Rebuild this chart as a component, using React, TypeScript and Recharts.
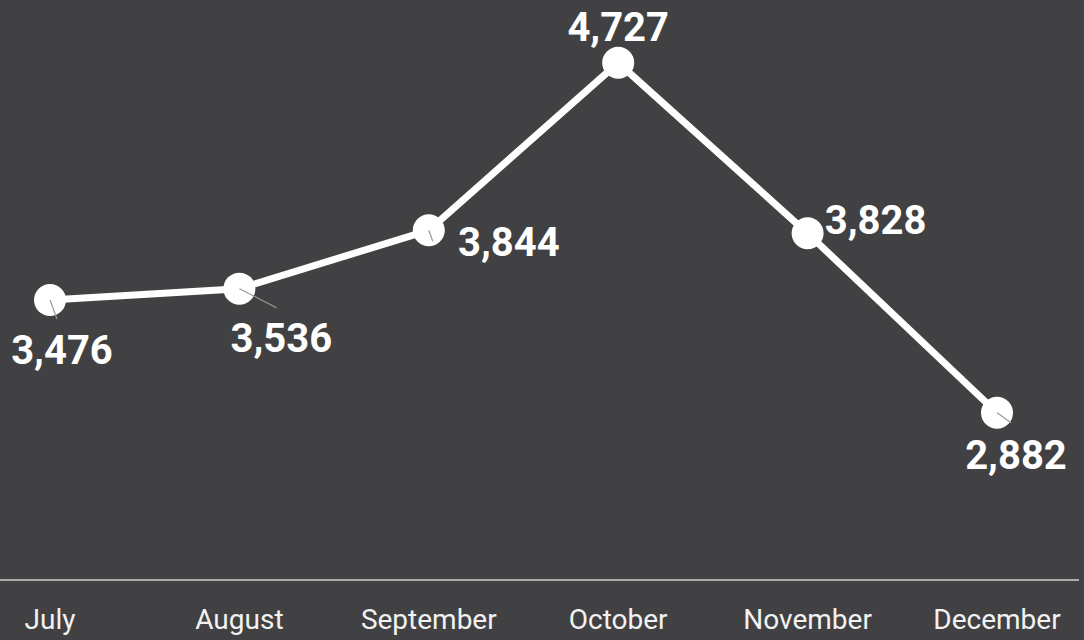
import { LineChart, Line, XAxis, YAxis, LabelList } from "recharts"

const months = ["July", "August", "September", "October", "November", "December"]
const values = [3476, 3536, 3844, 4727, 3828, 2882]

// where each value label sits relative to its point (label centre), plus the leader line end
const labelOffsets = [
    { dx: 12, dy: 50, lx: 7, ly: 19 },
    { dx: 42, dy: 50, lx: 37, ly: 19 },
    { dx: 80, dy: 12, lx: 4, ly: 11 },
    { dx: 0, dy: -35, lx: 0, ly: 0 },
    { dx: 68, dy: -13, lx: 0, ly: 0 },
    { dx: 19, dy: 43, lx: 14, ly: 10 },
]

const data = months.map((m, i) => ({ month: m, value: values[i] }))

const renderLabel = (props: any) => {
    const { x, y, value, index } = props
    const o = labelOffsets[index]
    return (
        <g>
            {(o.lx !== 0 || o.ly !== 0) && (
                <line x1={x} y1={y} x2={x + o.lx} y2={y + o.ly} stroke="#9a9a9a" strokeWidth={1.2} />
            )}
            <text
                x={x + o.dx}
                y={y + o.dy}
                textAnchor="middle"
                dominantBaseline="central"
                fill="#ffffff"
                fontFamily="Roboto"
                fontWeight={700}
                fontSize={40}
            >
                {Number(value).toLocaleString("en-US")}
            </text>
        </g>
    )
}

export default function App() {
    return (
        <div style={{ position: "absolute", left: 0, top: 0, width: 1084, height: 640, background: "#414143" }}>
            <LineChart width={1084} height={640} data={data} margin={{ top: 11, right: 5, bottom: 0, left: 0 }}>
                <XAxis
                    dataKey="month"
                    height={60}
                    padding={{ left: 50, right: 82 }}
                    tickLine={false}
                    axisLine={{ stroke: "#cfcfcf", strokeWidth: 1.5 }}
                    tick={{ fill: "#f2f2f2", fontFamily: "Roboto", fontSize: 28 }}
                    tickMargin={23}
                    interval={0}
                />
                <YAxis hide domain={[2000, 5000]} allowDataOverflow />
                <Line
                    type="linear"
                    dataKey="value"
                    stroke="#ffffff"
                    strokeWidth={7}
                    dot={{ r: 16, fill: "#ffffff", stroke: "none" }}
                    activeDot={false}
                    isAnimationActive={false}
                >
                    <LabelList dataKey="value" content={renderLabel} />
                </Line>
            </LineChart>
        </div>
    )
}
